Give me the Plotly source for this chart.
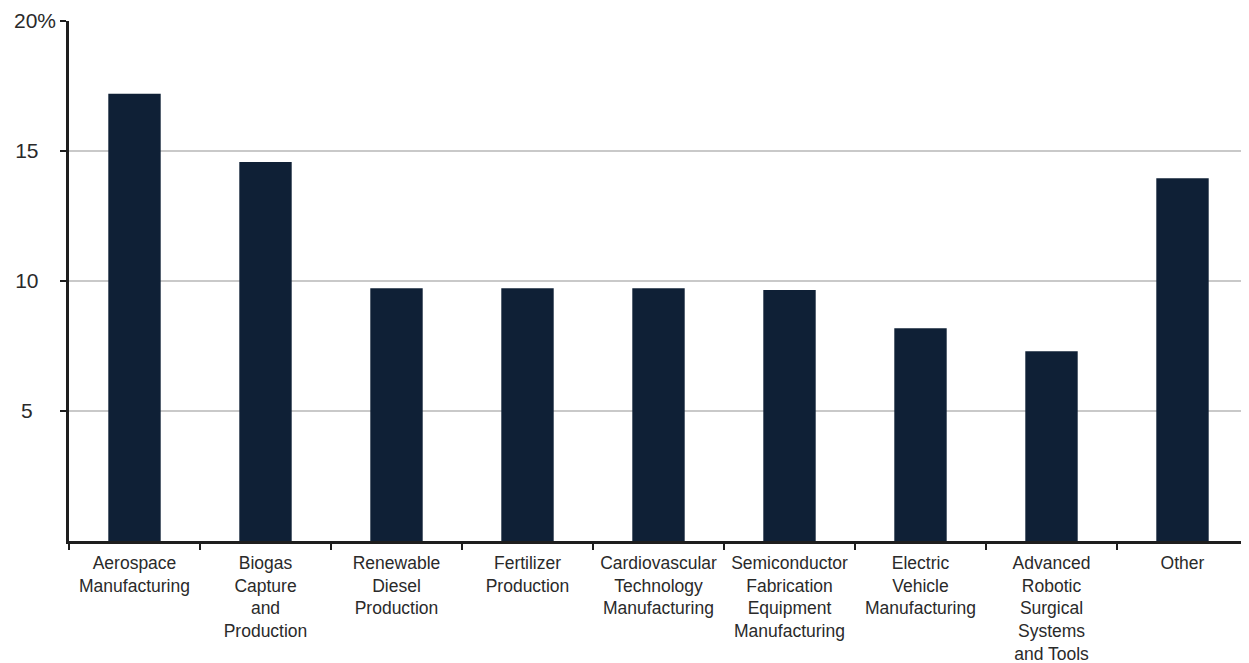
import plotly.graph_objects as go

categories = [
    "Aerospace<br>Manufacturing",
    "Biogas<br>Capture<br>and<br>Production",
    "Renewable<br>Diesel<br>Production",
    "Fertilizer<br>Production",
    "Cardiovascular<br>Technology<br>Manufacturing",
    "Semiconductor<br>Fabrication<br>Equipment<br>Manufacturing",
    "Electric<br>Vehicle<br>Manufacturing",
    "Advanced<br>Robotic<br>Surgical<br>Systems<br>and Tools",
    "Other",
]
values = [17.2, 14.58, 9.72, 9.72, 9.72, 9.65, 8.18, 7.3, 13.95]
y_tick_vals = [5, 10, 15, 20]
y_tick_labels = ["5", "10", "15", "20%"]

# pad number labels so digits line up as in the reference (the % hangs to the right)
pad = {1: 4, 2: 3, 3: 0}
y_tick_text = [t + "\u00a0" * pad[len(t)] for t in y_tick_labels]

fig = go.Figure(
    go.Bar(
        x=categories,
        y=values,
        marker=dict(color="#0f2036", line=dict(width=0)),
        width=0.4,
        hoverinfo="x+y",
    )
)

font_family = "Liberation Sans, Arial, Helvetica, sans-serif"

# the page body has an 8px margin, so the figure is sized/offset to fill the window
fig.update_layout(
    width=1241,
    height=655,
    margin=dict(l=61, r=1, t=13, b=122, autoexpand=False),
    plot_bgcolor="white",
    paper_bgcolor="white",
    showlegend=False,
    font=dict(family=font_family, size=18, color="#2a2a2a"),
)

fig.update_xaxes(
    automargin=False,
    showline=True,
    linecolor="#1e1e1e",
    linewidth=2.5,
    ticks="outside",
    tickson="boundaries",
    ticklen=6,
    tickwidth=2,
    tickcolor="#1e1e1e",
    showgrid=False,
    tickangle=0,
    tickfont=dict(size=17.5, family=font_family, color="#2a2a2a"),
    ticklabelstandoff=4,
    range=[-0.5, 8.5],
)

fig.update_yaxes(
    automargin=False,
    range=[0, 20],
    tickvals=y_tick_vals,
    ticktext=y_tick_text,
    showline=True,
    linecolor="#1e1e1e",
    linewidth=2.5,
    ticks="outside",
    ticklen=6,
    tickwidth=2,
    tickcolor="#1e1e1e",
    showgrid=True,
    gridcolor="#c9c9c9",
    gridwidth=1.5,
    zeroline=False,
    tickfont=dict(size=21, family=font_family, color="#2a2a2a"),
    ticklabelstandoff=0,
)

fig.write_html("out.html")
